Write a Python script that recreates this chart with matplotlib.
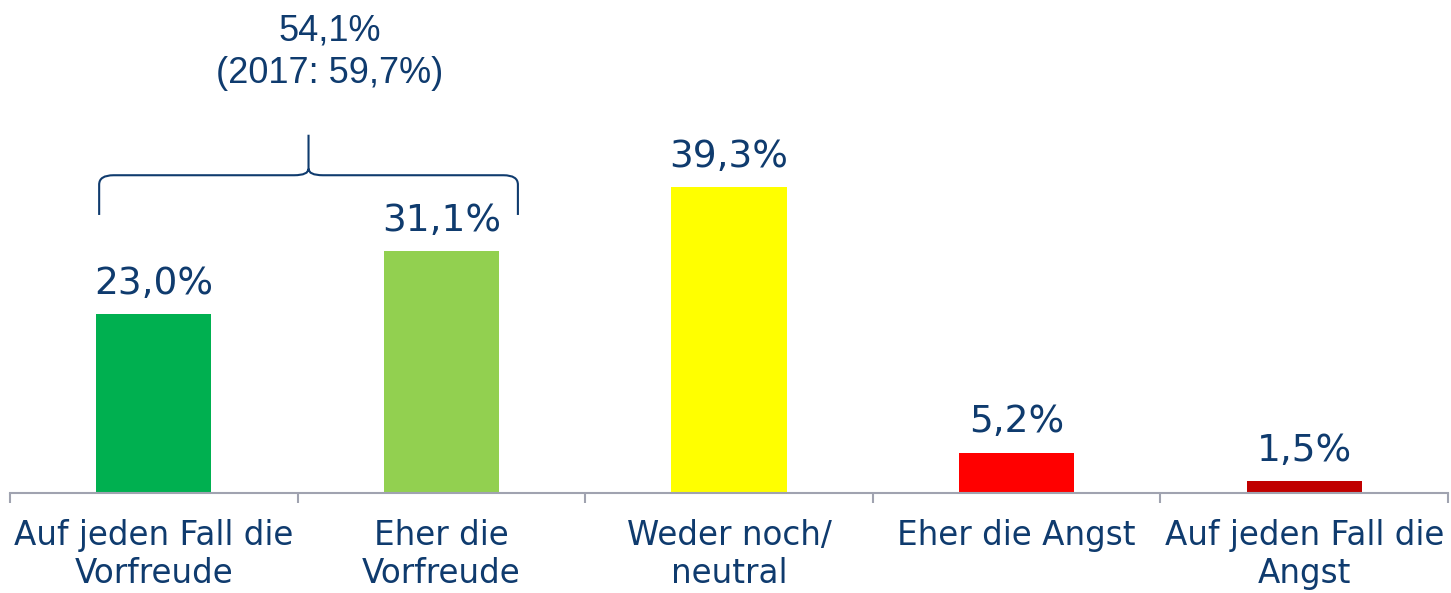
import numpy as np
import matplotlib
matplotlib.use('Agg')
import matplotlib.pyplot as plt
from matplotlib.path import Path
from matplotlib.patches import PathPatch

# Daten
categories = ['Auf jeden Fall die\nVorfreude', 'Eher die\nVorfreude', 'Weder noch/\nneutral',
              'Eher die Angst', 'Auf jeden Fall die\nAngst']
values = [23.0, 31.1, 39.3, 5.2, 1.5]
labels = ['23,0%', '31,1%', '39,3%', '5,2%', '1,5%']
colors = ['#00B050', '#92D050', '#FFFF00', '#FF0000', '#C00000']
sum_label = '54,1%\n(2017: 59,7%)'

text_col = '#0F3B6E'
axis_col = '#A0A3B0'

fig = plt.figure(figsize=(14.51, 5.93), dpi=100)
ax = fig.add_axes([10 / 1451, 100 / 593, 1438 / 1451, 493 / 593])

x = np.arange(len(values))
ax.bar(x, values, width=0.4, color=colors, zorder=2)

for xi, v, lab in zip(x, values, labels):
    ax.annotate(lab, (xi, v), xytext=(0, 14.5), textcoords='offset points',
                ha='center', va='baseline', fontsize=27, color=text_col,
                family='DejaVu Sans')

ax.set_xlim(-0.5, len(values) - 0.5)
ax.set_ylim(0, 63.3)

for s in ['top', 'right', 'left']:
    ax.spines[s].set_visible(False)
ax.spines['bottom'].set_color(axis_col)
ax.spines['bottom'].set_linewidth(1.5)
ax.set_yticks([])

# Trennstriche zwischen den Kategorien
ax.set_xticks(np.arange(-0.5, len(values), 1.0))
ax.set_xticklabels([])
ax.tick_params(axis='x', which='major', length=7, width=1.5, color=axis_col, direction='out')
ax.set_xticks(x, minor=True)
ax.set_xticklabels(categories, minor=True, fontsize=23.5, color=text_col,
                   linespacing=1.2, family='DejaVu Sans')
ax.tick_params(axis='x', which='minor', length=0, pad=18.5)

# Klammer über den ersten beiden Balken
x0, x1 = -0.19, 1.266
xm = (x0 + x1) / 2
yb, yh, yt = 35.7, 40.8, 46.0
dx, dy = 0.05, 1.2
verts = [(x0, yb), (x0, yh - dy), (x0, yh), (x0 + dx, yh),
         (xm - dx, yh), (xm, yh), (xm, yh + dy * 0.7), (xm, yt),
         (xm, yh + dy * 0.7), (xm, yh), (xm + dx, yh),
         (x1 - dx, yh), (x1, yh), (x1, yh - dy), (x1, yb)]
codes = [Path.MOVETO, Path.LINETO, Path.CURVE3, Path.CURVE3,
         Path.LINETO, Path.CURVE3, Path.CURVE3, Path.LINETO,
         Path.MOVETO, Path.CURVE3, Path.CURVE3,
         Path.LINETO, Path.CURVE3, Path.CURVE3, Path.LINETO]
ax.add_patch(PathPatch(Path(verts, codes), fill=False, edgecolor=text_col, lw=1.5))

ax.text(xm + 0.075, 52.6, sum_label, ha='center', va='baseline', fontsize=26,
        color=text_col, family='Liberation Sans', linespacing=1.3)

fig.savefig('out.png', dpi=100)
